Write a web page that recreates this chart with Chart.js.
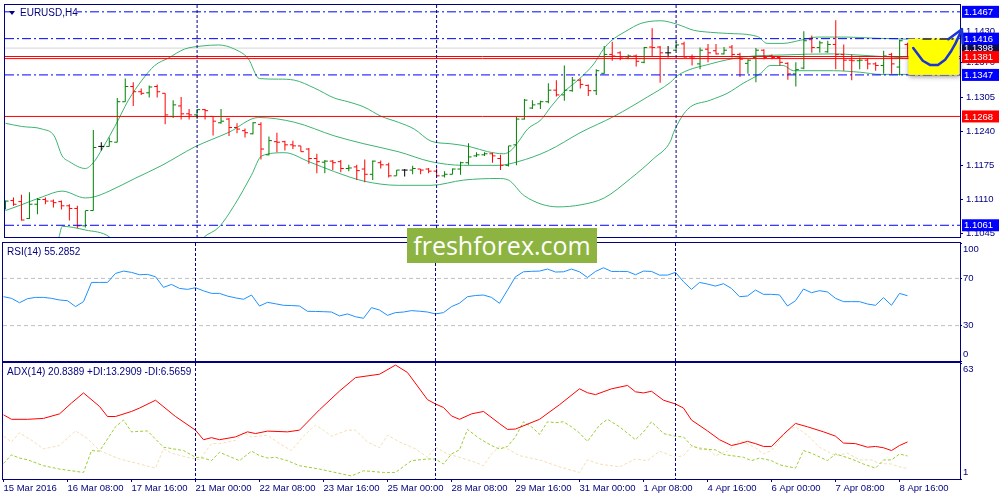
<!DOCTYPE html>
<html>
<head>
<meta charset="utf-8">
<script src="https://cdn.jsdelivr.net/npm/chart.js@4.4.1/dist/chart.umd.min.js"></script>
<style>
  html, body { margin: 0; padding: 0; background: #fff; }
  #wrap { position: relative; width: 1000px; height: 500px; overflow: hidden; }
  canvas { position: absolute; left: 0; }
  #mark { position: absolute; left: 407px; top: 228px; width: 190px; height: 35px; background: #8db441;
          color: #fff; font: 25px 'Open Sans', sans-serif; line-height: 34px; text-align: center; }
</style>
</head>
<body>
<div id="wrap">
  <canvas id="priceChart" width="1000" height="242" style="top:0"></canvas>
  <canvas id="rsiChart" width="1000" height="122" style="top:240px"></canvas>
  <canvas id="adxChart" width="1000" height="139" style="top:361px"></canvas>
  <div id="mark">freshforex.com</div>
</div>
<script>
const NAVY = '#000080';
const FONT = '"Liberation Sans", Arial, sans-serif';

// time axis: one label every 8 bars (H4)
const xLabelBars = [0, 8, 16, 24, 32, 40, 48, 56, 64, 72, 80, 88, 96, 104, 112];
const xLabels = ['15 Mar 2016', '16 Mar 08:00', '17 Mar 16:00', '21 Mar 00:00', '22 Mar 08:00',
  '23 Mar 16:00', '25 Mar 00:00', '28 Mar 08:00', '29 Mar 16:00', '31 Mar 00:00', '1 Apr 08:00',
  '4 Apr 16:00', '6 Apr 00:00', '7 Apr 08:00', '8 Apr 16:00'];
const weekStarts = [24, 54, 84];

// EURUSD H4 bars
const opens = [1.1093,1.1108,1.1106,1.1074,1.1101,1.1110,1.1107,1.1106,1.1098,1.1093,
  1.1060,1.1089,1.1211,1.1211,1.1219,1.1296,1.1325,1.1315,1.1313,1.1325,
  1.1312,1.1268,1.1288,1.1273,1.1271,1.1281,1.1268,1.1256,1.1263,1.1247,
  1.1241,1.1235,1.1253,1.1195,1.1220,1.1220,1.1214,1.1212,1.1206,1.1188,
  1.1181,1.1183,1.1182,1.1169,1.1172,1.1168,1.1158,1.1180,1.1176,1.1155,
  1.1166,1.1166,1.1168,1.1168,1.1164,1.1155,1.1158,1.1168,1.1180,1.1193,
  1.1195,1.1197,1.1188,1.1175,1.1214,1.1263,1.1284,1.1292,1.1296,1.1318,
  1.1309,1.1317,1.1337,1.1327,1.1317,1.1350,1.1386,1.1389,1.1379,1.1383,
  1.1371,1.1400,1.1400,1.1389,1.1394,1.1406,1.1381,1.1368,1.1396,1.1393,
  1.1387,1.1400,1.1386,1.1369,1.1380,1.1394,1.1383,1.1380,1.1369,1.1349,
  1.1360,1.1414,1.1399,1.1391,1.1405,1.1386,1.1375,1.1374,1.1375,1.1368,
  1.1365,1.1386,1.1362,1.1405];
const highs = [1.1108,1.1114,1.1119,1.1124,1.1113,1.1114,1.1110,1.1108,1.1101,1.1098,
  1.1088,1.1242,1.1219,1.1228,1.1303,1.1340,1.1333,1.1321,1.1327,1.1329,
  1.1312,1.1299,1.1305,1.1282,1.1282,1.1282,1.1268,1.1282,1.1265,1.1255,
  1.1245,1.1257,1.1257,1.1230,1.1237,1.1222,1.1222,1.1212,1.1208,1.1197,
  1.1185,1.1185,1.1185,1.1176,1.1176,1.1186,1.1184,1.1184,1.1180,1.1166,
  1.1168,1.1174,1.1168,1.1170,1.1169,1.1164,1.1169,1.1182,1.1217,1.1200,
  1.1200,1.1199,1.1195,1.1212,1.1268,1.1301,1.1299,1.1298,1.1331,1.1337,
  1.1365,1.1343,1.1340,1.1329,1.1358,1.1402,1.1410,1.1392,1.1386,1.1386,
  1.1400,1.1436,1.1402,1.1402,1.1410,1.1410,1.1386,1.1399,1.1406,1.1406,
  1.1400,1.1404,1.1389,1.1377,1.1398,1.1396,1.1386,1.1383,1.1371,1.1371,
  1.1430,1.1422,1.1412,1.1412,1.1451,1.1405,1.1386,1.1380,1.1379,1.1371,
  1.1393,1.1389,1.1414,1.1408];
const lows = [1.1091,1.1098,1.1070,1.1073,1.1082,1.1101,1.1095,1.1091,1.1070,1.1056,
  1.1057,1.1089,1.1203,1.1211,1.1219,1.1296,1.1288,1.1309,1.1304,1.1304,
  1.1253,1.1265,1.1262,1.1262,1.1263,1.1262,1.1232,1.1254,1.1231,1.1236,
  1.1228,1.1234,1.1186,1.1194,1.1200,1.1203,1.1206,1.1201,1.1178,1.1160,
  1.1160,1.1166,1.1162,1.1164,1.1147,1.1143,1.1147,1.1169,1.1152,1.1155,
  1.1154,1.1158,1.1158,1.1160,1.1154,1.1152,1.1158,1.1157,1.1176,1.1191,
  1.1193,1.1180,1.1166,1.1173,1.1175,1.1262,1.1282,1.1282,1.1293,1.1306,
  1.1298,1.1315,1.1321,1.1307,1.1309,1.1349,1.1374,1.1375,1.1377,1.1363,
  1.1369,1.1381,1.1332,1.1380,1.1394,1.1380,1.1365,1.1358,1.1371,1.1386,
  1.1386,1.1380,1.1343,1.1349,1.1333,1.1377,1.1377,1.1365,1.1338,1.1325,
  1.1358,1.1389,1.1389,1.1389,1.1358,1.1355,1.1337,1.1358,1.1358,1.1355,
  1.1349,1.1349,1.1346,1.1380];
const closes = [1.1107,1.1101,1.1071,1.1101,1.1110,1.1107,1.1104,1.1098,1.1093,1.1060,
  1.1089,1.1209,1.1211,1.1220,1.1296,1.1325,1.1315,1.1312,1.1324,1.1315,
  1.1271,1.1290,1.1273,1.1271,1.1281,1.1279,1.1259,1.1259,1.1247,1.1244,
  1.1237,1.1256,1.1206,1.1222,1.1219,1.1214,1.1212,1.1201,1.1188,1.1182,
  1.1183,1.1180,1.1169,1.1170,1.1165,1.1158,1.1183,1.1176,1.1155,1.1166,
  1.1166,1.1169,1.1166,1.1164,1.1155,1.1158,1.1168,1.1180,1.1191,1.1195,
  1.1197,1.1193,1.1175,1.1212,1.1263,1.1299,1.1290,1.1296,1.1318,1.1309,
  1.1318,1.1337,1.1329,1.1317,1.1355,1.1386,1.1383,1.1379,1.1383,1.1373,
  1.1399,1.1399,1.1389,1.1389,1.1404,1.1381,1.1379,1.1394,1.1389,1.1387,
  1.1394,1.1386,1.1377,1.1375,1.1394,1.1380,1.1380,1.1371,1.1349,1.1357,
  1.1412,1.1399,1.1408,1.1405,1.1386,1.1375,1.1374,1.1375,1.1368,1.1365,
  1.1383,1.1368,1.1412,1.1381];

// Bollinger bands as [bar, price]
const bbUpper = [[0,1.1255],[2,1.1249],[4.6,1.1244],[6.1,1.1231],[7.1,1.1193],[8,1.1182],[10,1.1169],
  [11.1,1.1182],[12.1,1.1206],[13.7,1.1249],[15.4,1.1299],[17.1,1.1337],[18.7,1.1365],[20.4,1.1379],
  [22.4,1.1396],[24.6,1.1402],[26.7,1.1404],[28.7,1.1396],[30.4,1.1378],[31.8,1.1340],[34.2,1.1339],
  [36.2,1.1337],[38.7,1.1322],[41.2,1.1303],[42.9,1.1296],[44.9,1.1286],[47.1,1.1268],[49.2,1.1257],
  [51.2,1.1244],[53.3,1.1221],[55.8,1.1216],[58.3,1.1210],[60.4,1.1201],[62.4,1.1197],[63.3,1.1203],
  [64.2,1.1219],[65.4,1.1244],[67.1,1.1262],[68.3,1.1286],[69.9,1.1314],[71.7,1.1337],[73.7,1.1368],
  [74.9,1.1396],[75.8,1.1411],[77.7,1.1430],[79.6,1.1445],[82.1,1.1450],[84.2,1.1443],[86.2,1.1432],
  [88.3,1.1428],[90.4,1.1426],[94.2,1.1420],[95.4,1.1407],[97.4,1.1407],[99.6,1.1413],[101.7,1.1419],
  [105.4,1.1419],[108.6,1.1417],[113,1.1415]];
const bbMiddle = [[0,1.1089],[2,1.1100],[4.6,1.1115],[7.1,1.1126],[10,1.1113],[11.1,1.1115],[13,1.1126],
  [16.2,1.1150],[19.6,1.1175],[23.7,1.1210],[28,1.1238],[31.7,1.1266],[36.2,1.1257],[41.2,1.1231],
  [44.9,1.1216],[49.2,1.1201],[53.3,1.1182],[57.4,1.1175],[61.7,1.1175],[64.2,1.1182],[68,1.1203],
  [72.1,1.1238],[76.2,1.1268],[80.4,1.1305],[83.3,1.1333],[84.2,1.1346],[88.3,1.1368],[92.4,1.1381],
  [97.4,1.1385],[103.7,1.1387],[106.7,1.1385],[110.8,1.1381],[113,1.1379]];
const bbLower = [[0,1.0923],[4,1.0977],[6.7,1.1039],[7.1,1.1059],[10,1.1052],[13,1.1039],[16,1.0987],
  [20,1.0981],[24,1.1024],[24.9,1.1039],[26.7,1.1057],[28.7,1.1100],[30.8,1.1156],[32.1,1.1193],
  [35,1.1199],[38,1.1182],[41.2,1.1163],[44.9,1.1145],[49.2,1.1137],[53.3,1.1137],[57.4,1.1147],
  [61.7,1.1150],[63,1.1147],[65,1.1117],[69.2,1.1096],[72.1,1.1100],[75,1.1113],[78.3,1.1150],
  [81.2,1.1188],[83.3,1.1221],[83.7,1.1238],[85.4,1.1281],[88.3,1.1299],[90.4,1.1312],[92.4,1.1331],
  [94.6,1.1350],[95.8,1.1365],[97.4,1.1365],[98.7,1.1355],[103.7,1.1355],[107.1,1.1352],
  [109.6,1.1348],[113,1.1348]];

// horizontal levels and right-axis tags
const blueLevels = [1.1467, 1.1416, 1.1347, 1.1061];
const redLevels = [1.1382, 1.1378, 1.1268];
const greyLevels = [1.1398];
const priceTicks = [1.1045, 1.1110, 1.1175, 1.1240, 1.1305, 1.1370, 1.1430];
const tagValues = [1.1398, 1.1467, 1.1416, 1.1347, 1.1061, 1.1268, 1.1381];
const tagColors = ['#0c0c48', '#0000ff', '#0000ff', '#0000ff', '#0000ff', '#ff0000', '#ff0000'];

// forecast sketch (bar, price)
const noteBox = [113.1, 1.1416, 1.1347];
const noteCurve = [[113.7,1.1398],[114.9,1.1374],[115.8,1.1366],[116.8,1.1366],[117.7,1.1376],
  [118.4,1.1391],[119.0,1.1407],[119.8,1.1434]];
const noteHead = [[118.1,1.1415],[119.8,1.1434],[119.9,1.1407]];

// RSI(14)
const rsi = [54.5,53.1,49.4,52.8,53.9,53.9,53.1,51.7,51.1,46.1,
  50.3,66.6,66.6,66.6,74.2,76.2,75.1,73.1,73.4,71.4,
  62.4,64.9,61.5,60.7,62.1,59.5,57.3,57.3,55.0,53.5,
  52.3,55.9,46.6,49.7,48.5,47.2,47.0,46.6,42.1,42.0,
  41.8,41.5,38.2,39.9,37.5,36.2,45.2,43.2,38.7,41.0,
  41.5,42.7,42.2,41.5,39.9,41.0,46.1,49.0,54.5,55.5,
  55.9,53.9,48.9,60.1,71.4,75.6,76.0,76.2,77.9,75.4,
  75.6,77.9,75.6,70.8,75.9,79.0,75.9,75.9,75.9,73.1,
  76.2,75.9,72.8,72.8,75.1,67.2,60.7,66.6,65.2,63.5,
  65.5,61.5,54.5,55.1,60.1,56.5,56.5,56.0,46.6,51.1,
  61.0,57.9,59.6,58.5,53.1,50.3,50.3,50.3,48.3,47.2,
  53.7,47.2,57.3,55.3];
const rsiLevels = [30, 70];

// ADX(14), read as [bar, value]
const adx = [[0,35.3],[1,32.9],[3,32.9],[5,33.4],[7,35.8],[8.5,41.6],[10,47.0],[12,39.8],[13,34.4],
  [14,34.4],[16,37.1],[17,38.9],[19,43.1],[21.5,34.4],[24,27.1],[25,22.0],[26,23.1],[27,22.0],
  [29,23.5],[30.5,26.2],[31.5,25.3],[33,26.6],[35.5,26.2],[37,27.1],[39.5,38.0],[42,48.0],
  [44,55.2],[47,57.0],[49,61.9],[50.5,57.9],[53,43.4],[54,41.1],[55,39.2],[56,34.7],[57,32.9],
  [58.5,35.8],[60,37.1],[62,30.6],[63,27.5],[64,27.7],[67,32.9],[69.5,40.7],[72,49.2],[73,47.1],
  [74,46.1],[76,49.2],[78,51.0],[79,47.6],[80,47.0],[81,47.9],[82.5,43.1],[84,41.1],[85,38.9],
  [86,32.5],[88,26.7],[89.5,22.0],[91,18.9],[92,19.9],[93,21.1],[94,19.9],[95,18.4],[96,18.4],
  [97.5,24.9],[99,30.7],[100.5,28.9],[102.5,26.2],[104,23.9],[105,20.2],[106.5,19.9],[108,18.0],
  [109,18.4],[110,17.7],[111,16.2],[112,18.9],[113,20.8]];
const plusDI = [[0,9.3],[1,13.9],[2,12.2],[3,11.3],[5,8.1],[7,6.3],[10,4.5],[11,16.2],[12,15.9],
  [14,28.9],[15,32.5],[16,26.2],[18,26.7],[20,18.0],[22.5,16.2],[24,12.6],[25,12.2],[26,10.8],
  [27,15.3],[28,13.5],[29.5,10.8],[31,15.9],[32,13.5],[33,12.2],[34,12.6],[35.5,10.8],[37,8.1],
  [39.5,6.3],[43.5,2.6],[45,5.4],[47.5,4.5],[49,4.5],[51,10.8],[53,11.7],[54,11.7],[55,9.0],
  [56,14.4],[57,16.6],[58,27.5],[59.5,22.6],[61,18.9],[62,17.0],[63,18.4],[64,23.5],[65,31.6],
  [66,28.9],[67,24.9],[68,31.6],[69,31.1],[70,31.6],[71,28.9],[72,25.6],[73,21.1],[74.5,29.8],
  [75.5,32.9],[77,28.9],[79,22.0],[80,26.2],[81,31.6],[82.5,25.3],[84,23.8],[85,23.5],[86,18.9],
  [87,17.1],[89,16.6],[90,14.1],[91,13.5],[92.5,12.6],[93.5,10.8],[94.5,12.2],[96,10.8],[97,8.6],
  [99,6.8],[100,16.2],[101,14.8],[103,10.8],[104,14.4],[106,11.7],[107.5,9.0],[109,6.8],
  [110,11.2],[111,11.2],[112,14.4],[113,13.3]];
const minusDI = [[0,23.9],[1,20.8],[2,25.7],[3.5,21.7],[5,17.1],[7,18.9],[9,26.7],[10.5,22.6],
  [12,16.2],[14.5,11.7],[17,9.0],[19,6.8],[20,17.1],[21,14.8],[23,12.6],[24.5,11.2],[26,19.9],
  [27,19.9],[29,21.7],[30,25.7],[31,23.5],[33,24.4],[34.5,19.9],[36,16.2],[37.5,23.9],[39,29.8],
  [40,27.1],[41,23.9],[43,27.1],[44,27.1],[45.5,20.8],[47,17.7],[48,24.4],[49.5,20.8],[51.5,17.1],
  [53,12.6],[54,18.0],[55.5,14.4],[57,12.6],[59,9.9],[60,8.1],[61,14.4],[62,18.5],[63,17.1],
  [64.5,13.5],[67,11.2],[69.5,7.5],[72,4.5],[73,11.2],[74.5,9.0],[77,7.5],[79,11.7],[80.5,10.8],
  [82,15.9],[84,12.6],[85,13.5],[86,18.4],[88,17.1],[89,13.5],[90.5,15.9],[92,21.7],[94,17.7],
  [95,14.4],[96,16.2],[98,27.1],[99,28.9],[100.5,24.4],[102,18.0],[104,13.5],[105.5,14.8],
  [107,11.2],[108.5,11.2],[109.5,9.3],[111,9.0],[112,7.5],[113,6.6]];

// ---------------------------------------------------------------
const X_MIN = -0.0625, X_MAX = 119.5625;

Chart.defaults.font.family = FONT;
Chart.defaults.font.size = 9.5;
Chart.defaults.color = NAVY;

const pts = arr => arr.map(([x, y]) => ({x, y}));
const hline = (v, color, dash, order) => ({
  type: 'line', data: [{x: X_MIN, y: v}, {x: X_MAX, y: v}],
  borderColor: color, borderWidth: 1, borderDash: dash || [], pointRadius: 0, order: order || 0
});
const fixY = s => { s.width = 40; s.paddingTop = 0; s.paddingBottom = 0; };

const barColor = opens.map((o, i) => closes[i] > o ? '#008000' : (closes[i] < o ? '#ff0000' : '#000000'));

// frame + weekly separators, shared by all panels
const framePlugin = {
  id: 'frame',
  afterDatasetsDraw(chart) {
    const {ctx, chartArea: a, scales: {x}} = chart;
    ctx.save();
    ctx.strokeStyle = NAVY;
    ctx.lineWidth = 1;
    ctx.setLineDash([3, 2]);
    weekStarts.forEach(i => {
      const px = x.getPixelForValue(i);
      ctx.beginPath(); ctx.moveTo(px, a.top); ctx.lineTo(px, a.bottom); ctx.stroke();
    });
    ctx.setLineDash([]);
    ctx.strokeRect(a.left - 0.5, a.top - 0.5, a.width + 1, a.height + 1);
    ctx.restore();
  }
};

const panelTitle = text => ({
  id: 'title_' + text.length,
  afterDatasetsDraw(chart) {
    const {ctx, chartArea: a} = chart;
    ctx.save();
    ctx.font = '10px ' + FONT;
    ctx.fillStyle = NAVY;
    ctx.textBaseline = 'middle';
    ctx.fillText(text, a.left + 4, a.top + 9);
    ctx.restore();
  }
});

const edgeLabels = (topText, bottomText) => ({
  id: 'edge_' + topText,
  afterDraw(chart) {
    const {ctx, chartArea: a} = chart;
    ctx.save();
    ctx.font = '9.5px ' + FONT;
    ctx.fillStyle = NAVY;
    ctx.textBaseline = 'middle';
    ctx.fillText(topText, a.right + 3, a.top + 6);
    ctx.fillText(bottomText, a.right + 3, a.bottom - 7);
    ctx.restore();
  }
});

const priceNotes = {
  id: 'priceNotes',
  afterDatasetsDraw(chart) {
    const {ctx, chartArea: a, scales: {x, y}} = chart;
    ctx.save();
    // yellow note box
    const bx = x.getPixelForValue(noteBox[0]);
    const by = y.getPixelForValue(noteBox[1]);
    const bb = y.getPixelForValue(noteBox[2]);
    ctx.shadowColor = 'rgba(0,0,0,0.45)';
    ctx.shadowBlur = 5;
    ctx.shadowOffsetX = 1;
    ctx.shadowOffsetY = 2;
    ctx.fillStyle = '#ffff00';
    ctx.fillRect(bx, by, a.right - bx - 1, bb - by);
    ctx.shadowColor = 'transparent';
    ctx.strokeStyle = '#000';
    ctx.setLineDash([9, 3, 2, 3]);
    ctx.beginPath(); ctx.moveTo(bx + 14, by + 0.5); ctx.lineTo(a.right - 4, by + 0.5); ctx.stroke();
    ctx.setLineDash([]);
    // symbol title
    ctx.fillStyle = '#fff';
    ctx.fillRect(a.left + 12, a.top + 2, 60, 12);
    ctx.fillStyle = NAVY;
    ctx.beginPath();
    ctx.moveTo(a.left + 4, a.top + 6); ctx.lineTo(a.left + 10, a.top + 6); ctx.lineTo(a.left + 7, a.top + 10);
    ctx.closePath(); ctx.fill();
    ctx.font = '10px ' + FONT;
    ctx.textBaseline = 'middle';
    ctx.fillText('EURUSD,H4', a.left + 15, a.top + 8);
    ctx.restore();
  },
  afterDraw(chart) {
    const {ctx, chartArea: a, scales: {x, y}} = chart;
    ctx.save();
    ctx.font = '9.5px ' + FONT;
    ctx.textBaseline = 'middle';
    tagValues.forEach((v, i) => {
      const py = y.getPixelForValue(v);
      ctx.fillStyle = tagColors[i];
      ctx.fillRect(a.right + 2, py - 6, 37, 12);
      ctx.fillStyle = '#fff';
      ctx.fillText(v.toFixed(4), a.right + 4, py + 0.5);
    });
    // hand-drawn forecast arrow
    ctx.strokeStyle = '#1b34d6';
    ctx.lineWidth = 2.5;
    ctx.lineJoin = 'round';
    ctx.lineCap = 'round';
    ctx.beginPath();
    noteCurve.forEach(([b, p], i) => {
      const px = x.getPixelForValue(b), py = y.getPixelForValue(p);
      if (i === 0) ctx.moveTo(px, py); else ctx.lineTo(px, py);
    });
    ctx.stroke();
    ctx.beginPath();
    noteHead.forEach(([b, p], i) => {
      const px = x.getPixelForValue(b), py = y.getPixelForValue(p);
      if (i === 0) ctx.moveTo(px, py); else ctx.lineTo(px, py);
    });
    ctx.stroke();
    ctx.restore();
  }
};

const baseOptions = (padding) => ({
  responsive: false,
  animation: false,
  devicePixelRatio: 1,
  events: [],
  layout: {padding},
  plugins: {legend: {display: false}, tooltip: {enabled: false}}
});

// ---- price panel
new Chart(document.getElementById('priceChart'), {
  type: 'scatter',
  data: {
    datasets: [
      ...greyLevels.map(v => hline(v, '#d6d6d6', [], 6)),
      ...[bbUpper, bbMiddle, bbLower].map(b => ({
        type: 'line', data: pts(b), borderColor: '#3cb371', borderWidth: 1,
        pointRadius: 0, cubicInterpolationMode: 'monotone', order: 5
      })),
      {
        type: 'bar', data: opens.map((o, i) => ({x: i, y: [lows[i], highs[i]]})),
        backgroundColor: barColor, barThickness: 1, inflateAmount: 0, borderWidth: 0, order: 4
      },
      {
        type: 'scatter', data: opens.map((o, i) => ({x: i - 0.19, y: o})),
        pointStyle: 'line', pointRadius: 1.5, pointBorderWidth: 1, pointBorderColor: barColor, order: 3
      },
      {
        type: 'scatter', data: closes.map((c, i) => ({x: i + 0.19, y: c})),
        pointStyle: 'line', pointRadius: 1.5, pointBorderWidth: 1, pointBorderColor: barColor, order: 3
      },
      ...redLevels.map(v => hline(v, '#ff0000', [], 1)),
      ...blueLevels.map(v => hline(v, '#0000ff', [9, 3, 2, 3], 0))
    ]
  },
  options: {
    ...baseOptions({left: 3, top: 3, right: 0, bottom: 2}),
    scales: {
      x: {type: 'linear', min: X_MIN, max: X_MAX, offset: false, display: false},
      y: {
        position: 'right', min: 1.10387, max: 1.14800,
        afterBuildTicks: s => { s.ticks = priceTicks.map(v => ({value: v})); },
        afterFit: fixY,
        ticks: {padding: 3, callback: v => v.toFixed(4)},
        grid: {drawOnChartArea: false, tickLength: 3, color: NAVY},
        border: {display: false}
      }
    }
  },
  plugins: [framePlugin, priceNotes]
});

// ---- RSI panel
new Chart(document.getElementById('rsiChart'), {
  type: 'scatter',
  data: {
    datasets: [
      ...rsiLevels.map(v => hline(v, '#c0c0c0', [4, 3], 2)),
      {
        type: 'line', data: rsi.map((v, i) => ({x: i, y: v})),
        borderColor: '#1e90ff', borderWidth: 1, pointRadius: 0, order: 1
      }
    ]
  },
  options: {
    ...baseOptions({left: 3, top: 3, right: 0, bottom: 1}),
    scales: {
      x: {type: 'linear', min: X_MIN, max: X_MAX, offset: false, display: false},
      y: {
        position: 'right', min: 0, max: 100,
        afterBuildTicks: s => { s.ticks = [0, 30, 70, 100].map(v => ({value: v})); },
        afterFit: fixY,
        ticks: {padding: 1, callback: v => rsiLevels.includes(v) ? String(v) : ''},
        grid: {drawOnChartArea: false, tickLength: 2, color: NAVY},
        border: {display: false}
      }
    }
  },
  plugins: [framePlugin, panelTitle('RSI(14) 55.2852'), edgeLabels('100', '0')]
});

// ---- ADX panel
new Chart(document.getElementById('adxChart'), {
  type: 'scatter',
  data: {
    datasets: [
      {type: 'line', data: pts(minusDI), borderColor: '#f5deb3', borderWidth: 1, borderDash: [3, 2], pointRadius: 0, order: 3},
      {type: 'line', data: pts(plusDI), borderColor: '#9acd32', borderWidth: 1, borderDash: [3, 2], pointRadius: 0, order: 2},
      {type: 'line', data: pts(adx), borderColor: '#ff0000', borderWidth: 1, pointRadius: 0, order: 1}
    ]
  },
  options: {
    ...baseOptions({left: 3, top: 2, right: 0, bottom: 0}),
    scales: {
      x: {
        type: 'linear', min: X_MIN, max: X_MAX, offset: false, position: 'bottom',
        afterBuildTicks: s => { s.ticks = xLabelBars.map(v => ({value: v})); },
        afterFit: s => { s.height = 21; s.paddingLeft = 0; s.paddingRight = 0; },
        ticks: {
          callback: (v, i) => xLabels[i], align: 'start', maxRotation: 0, minRotation: 0,
          autoSkip: false, padding: 1
        },
        grid: {drawOnChartArea: false, tickLength: 3, color: NAVY},
        border: {display: false}
      },
      y: {
        position: 'right', min: 1, max: 63,
        afterBuildTicks: s => { s.ticks = [1, 63].map(v => ({value: v})); },
        afterFit: fixY,
        ticks: {padding: 1, callback: () => ''},
        grid: {drawOnChartArea: false, tickLength: 2, color: NAVY},
        border: {display: false}
      }
    }
  },
  plugins: [framePlugin, panelTitle('ADX(14) 20.8389 +DI:13.2909 -DI:6.5659'), edgeLabels('63', '1')]
});
</script>
</body>
</html>
